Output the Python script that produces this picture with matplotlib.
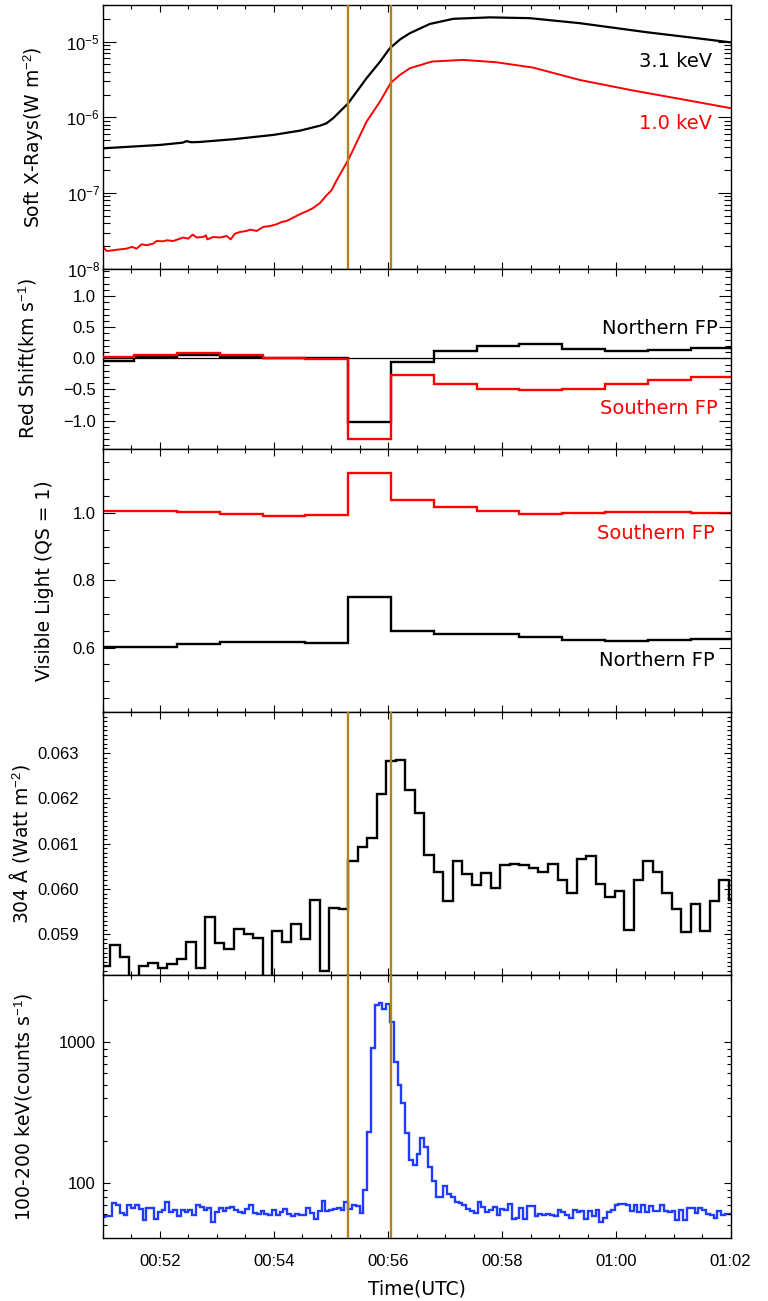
import numpy as np
import matplotlib
matplotlib.use('Agg')
import matplotlib.pyplot as plt
import matplotlib.dates as mdates
import matplotlib.ticker as mticker

plt.rcParams['font.family'] = ['DejaVu Sans']
plt.rcParams['mathtext.fontset'] = 'custom'
plt.rcParams['mathtext.rm'] = 'Liberation Sans'
plt.rcParams['mathtext.it'] = 'Liberation Sans:italic'
plt.rcParams['mathtext.bf'] = 'Liberation Sans:bold'

# ---- data (times in seconds / minutes after 00:50:00 UTC) ----
flare_lines_s = [318, 363]

# soft X-rays, 3.1 keV channel
sxr_hi_min = [1.0, 2.0, 2.40, 2.47, 2.55, 2.70, 3.29, 3.99, 4.46, 4.81, 4.92, 5.04, 5.30,
              5.62, 5.86, 6.03, 6.21, 6.38, 6.73, 7.14, 7.78, 8.48, 9.36, 10.53, 11.40, 12.0]
sxr_hi = [3.89e-7, 4.31e-7, 4.62e-7, 4.84e-7, 4.68e-7, 4.72e-7, 5.13e-7, 5.85e-7, 6.67e-7,
          7.76e-7, 8.32e-7, 9.77e-7, 1.53e-6, 3.27e-6, 5.45e-6, 8.17e-6, 1.07e-5, 1.29e-5,
          1.71e-5, 2.0e-5, 2.09e-5, 2.04e-5, 1.75e-5, 1.33e-5, 1.11e-5, 9.77e-6]

# soft X-rays, 1.0 keV channel
sxr_lo_min = [1.005, 1.07, 1.186, 1.303, 1.42, 1.508, 1.595, 1.683, 1.77, 1.886, 1.946, 2.061,
              2.121, 2.236, 2.412, 2.499, 2.576, 2.646, 2.762, 2.809, 2.832, 2.937, 3.054, 3.172,
              3.242, 3.317, 3.405, 3.522, 3.58, 3.697, 3.813, 3.93, 4.047, 4.135, 4.222, 4.338,
              4.455, 4.573, 4.688, 4.806, 4.923, 5.01, 5.098, 5.301, 5.623, 5.856, 6.049, 6.207,
              6.382, 6.767, 7.315, 7.9, 8.541, 9.359, 10.235, 11.11, 12.0]
sxr_lo = [1.94e-8, 1.71e-8, 1.75e-8, 1.80e-8, 1.84e-8, 1.94e-8, 1.84e-8, 2.10e-8, 2.04e-8,
          2.14e-8, 2.32e-8, 2.30e-8, 2.37e-8, 2.32e-8, 2.58e-8, 2.49e-8, 2.82e-8, 2.58e-8,
          2.62e-8, 2.76e-8, 2.44e-8, 2.62e-8, 2.58e-8, 2.70e-8, 2.44e-8, 2.90e-8, 3.05e-8,
          3.15e-8, 3.28e-8, 3.15e-8, 3.56e-8, 3.66e-8, 3.86e-8, 4.14e-8, 4.27e-8, 4.73e-8,
          5.24e-8, 5.73e-8, 6.34e-8, 7.38e-8, 9.33e-8, 1.09e-7, 1.47e-7, 2.73e-7, 8.77e-7,
          1.61e-6, 2.87e-6, 3.63e-6, 4.45e-6, 5.45e-6, 5.73e-6, 5.33e-6, 4.53e-6, 3.11e-6,
          2.30e-6, 1.75e-6, 1.32e-6]

# footpoint bins (45 s cadence)
fp_edges_s = [48, 93, 138, 183, 228, 273, 318, 363, 408, 453, 498, 543, 588, 633, 678, 723]
north_shift = [-0.04, 0.015, 0.05, 0.02, 0.0, 0.0, -1.03, -0.065, 0.11, 0.20, 0.235, 0.155,
               0.11, 0.14, 0.17]
south_shift = [0.02, 0.05, 0.08, 0.06, 0.01, -0.005, -1.295, -0.274, -0.41, -0.49, -0.516,
               -0.495, -0.41, -0.355, -0.306]
south_vis = [1.005, 1.007, 1.003, 0.998, 0.991, 0.995, 1.117, 1.038, 1.017, 1.007, 0.997,
             0.999, 1.002, 1.002, 1.000]
north_vis = [0.603, 0.603, 0.612, 0.618, 0.618, 0.613, 0.750, 0.649, 0.640, 0.640, 0.632,
             0.623, 0.621, 0.624, 0.626]

# 304 A (10 s cadence, bins start at 58 s)
euv_edges_s = np.arange(58, 729, 10)
euv_304 = [0.05830, 0.05877, 0.05851, 0.0578, 0.05830, 0.05836, 0.05825, 0.05834, 0.05846,
           0.05884, 0.05825, 0.05939, 0.05882, 0.05867, 0.05912, 0.05900, 0.05893, 0.0578,
           0.05908, 0.05883, 0.05924, 0.05890, 0.05975, 0.05819, 0.05959, 0.05957,
           0.06061, 0.06092, 0.06112, 0.06209, 0.06283, 0.06285, 0.06219, 0.06167, 0.06075,
           0.06038, 0.05974, 0.06061, 0.06034, 0.06010, 0.06035, 0.06002, 0.06053, 0.06055,
           0.06052, 0.06047, 0.06038, 0.06055, 0.06019, 0.05992, 0.06067, 0.06073, 0.06012,
           0.05983, 0.05996, 0.05910, 0.06020, 0.06062, 0.06038, 0.05992, 0.05957, 0.05906,
           0.05966, 0.05908, 0.05974, 0.06020, 0.05975]

# 100-200 keV (4 s cadence, bins start at 58 s)
hxr_edges_s = np.arange(58, 723, 4)
hxr_counts = [57, 58, 58, 72, 70, 61, 59, 70, 66, 70, 65, 55, 66, 66, 56, 62, 64, 73, 62, 64,
              58, 64, 62, 64, 59, 70, 68, 64, 66, 53, 62, 66, 63, 66, 68, 64, 62, 61, 65, 70,
              61, 60, 63, 60, 59, 64, 59, 62, 65, 60, 58, 60, 59, 59, 66, 61, 56, 63, 75, 63,
              64, 65, 66, 64, 73,
              65, 70, 69, 61, 90, 232, 906, 1840, 1910, 1715, 1870, 1400, 728, 497, 369, 226,
              146, 135, 161, 208, 180, 131, 103, 80, 80, 96, 83, 80, 73, 72, 70, 65,
              63, 61, 73, 67.5, 62, 64, 68, 59.6, 65.5, 64.7, 71.5, 56, 56.4, 66, 55.5, 69, 69,
              58, 60.5, 59.6, 60.2, 59.6, 58, 64, 62, 59.6, 56.4, 64, 62.5, 63, 55.5, 63.5, 58,
              64.7, 52.7, 56.4, 62, 64, 70, 71.5, 71.5, 70, 63, 70, 62, 70, 62.3, 68.3, 63.5,
              63.5, 70, 63, 62, 63.5, 55, 64.7, 55, 67, 67, 61, 66.5, 64.7, 60.5, 59.6, 56.4,
              63.5, 59.6, 60.5, 60.5]

base = np.datetime64('2000-01-01T00:50:00')


def tnum(sec):
    sec = np.asarray(sec, dtype=float)
    return mdates.date2num(base + np.round(sec * 1000).astype('timedelta64[ms]'))


orange = '#b5801e'
blue = '#1f3cff'

fig = plt.figure(figsize=(7.68, 13.01), dpi=100)
left, width = 0.1337, 0.8177
ax1 = fig.add_axes([left, 0.7935, width, 0.2027])
ax2 = fig.add_axes([left, 0.6547, width, 0.1388])
ax3 = fig.add_axes([left, 0.4528, width, 0.2019])
ax4 = fig.add_axes([left, 0.2502, width, 0.2026])
ax5 = fig.add_axes([left, 0.0487, width, 0.2015])


def style(ax, ymaj, ymin, pad):
    ax.set_xlim(tnum(60), tnum(720))
    ax.xaxis.set_major_locator(mdates.MinuteLocator(byminute=range(0, 60, 2)))
    ax.xaxis.set_minor_locator(mdates.SecondLocator(bysecond=[0, 30]))
    ax.xaxis.set_major_formatter(mdates.DateFormatter('%H:%M'))
    ax.tick_params(which='both', direction='in', top=True, right=True, width=0.8,
                   labelsize=12, labelfontfamily='Liberation Sans')
    ax.tick_params(axis='x', which='major', length=5, pad=12)
    ax.tick_params(axis='x', which='minor', length=3)
    ax.tick_params(axis='y', which='major', length=ymaj, pad=pad)
    ax.tick_params(axis='y', which='minor', length=ymin)
    for s in ax.spines.values():
        s.set_linewidth(1.0)


def ylab(ax, text, x):
    ax.set_ylabel(text, fontsize=13.5, va='center')
    ax.yaxis.set_label_coords(x, 0.5)


# panel 1: soft X-rays
ax1.plot(tnum(np.array(sxr_hi_min) * 60), sxr_hi, color='k', lw=1.6)
ax1.plot(tnum(np.array(sxr_lo_min) * 60), sxr_lo, color='red', lw=1.4)
ax1.set_yscale('log')
ax1.set_ylim(1e-8, 3.05e-5)
ax1.yaxis.set_minor_locator(mticker.LogLocator(base=10, subs=np.arange(2, 10)))
ax1.yaxis.set_minor_formatter(mticker.NullFormatter())
style(ax1, 9.4, 5, 2)
ylab(ax1, 'Soft X-Rays(W m$^{-2}$)', -0.11)
ax1.text(0.970, 0.785, '3.1 keV', transform=ax1.transAxes, ha='right', va='center',
         fontsize=14, color='k')
ax1.text(0.970, 0.551, '1.0 keV', transform=ax1.transAxes, ha='right', va='center',
         fontsize=14, color='red')

# panel 2: red shift
ax2.axhline(0, color='k', lw=0.9, zorder=1)
ax2.stairs(north_shift, tnum(fp_edges_s), baseline=None, color='k', lw=1.7, zorder=2)
ax2.stairs(south_shift, tnum(fp_edges_s), baseline=None, color='red', lw=1.7, zorder=3)
ax2.set_ylim(-1.46, 1.44)
ax2.yaxis.set_major_locator(mticker.MultipleLocator(0.5))
ax2.yaxis.set_minor_locator(mticker.MultipleLocator(0.1))
ax2.yaxis.set_major_formatter(mticker.FuncFormatter(lambda v, p: f'{v:.1f}'.replace('-', '\u2212')))
style(ax2, 8.6, 4.3, 5)
ylab(ax2, 'Red Shift(km s$^{-1}$)', -0.119)
ax2.text(0.979, 0.67, 'Northern FP', transform=ax2.transAxes, ha='right', va='center',
         fontsize=14, color='k')
ax2.text(0.979, 0.223, 'Southern FP', transform=ax2.transAxes, ha='right', va='center',
         fontsize=14, color='red')

# panel 3: visible light
ax3.stairs(south_vis, tnum(fp_edges_s), baseline=None, color='red', lw=1.7)
ax3.stairs(north_vis, tnum(fp_edges_s), baseline=None, color='k', lw=1.7)
ax3.set_ylim(0.409, 1.189)
ax3.yaxis.set_major_locator(mticker.MultipleLocator(0.2))
ax3.yaxis.set_minor_locator(mticker.MultipleLocator(0.05))
ax3.yaxis.set_major_formatter(mticker.FormatStrFormatter('%.1f'))
style(ax3, 8.6, 4.3, 5)
ylab(ax3, 'Visible Light (QS = 1)', -0.092)
ax3.text(0.975, 0.679, 'Southern FP', transform=ax3.transAxes, ha='right', va='center',
         fontsize=14, color='red')
ax3.text(0.975, 0.197, 'Northern FP', transform=ax3.transAxes, ha='right', va='center',
         fontsize=14, color='k')

# panel 4: 304 A
ax4.stairs(euv_304, tnum(euv_edges_s), baseline=None, color='k', lw=1.7)
ax4.set_ylim(0.058094, 0.063906)
ax4.yaxis.set_major_locator(mticker.MultipleLocator(0.001))
ax4.yaxis.set_minor_locator(mticker.MultipleLocator(0.0001))
ax4.yaxis.set_major_formatter(mticker.FormatStrFormatter('%.3f'))
style(ax4, 5, 3, 17)
ylab(ax4, '304 Å (Watt m$^{-2}$)', -0.133)

# panel 5: 100-200 keV
ax5.stairs(hxr_counts, tnum(hxr_edges_s), baseline=None, color=blue, lw=1.7)
ax5.set_yscale('log')
ax5.set_ylim(41, 2970)
ax5.yaxis.set_major_formatter(mticker.FuncFormatter(lambda v, p: f'{v:.0f}'))
ax5.yaxis.set_minor_locator(mticker.LogLocator(base=10, subs=np.arange(2, 10)))
ax5.yaxis.set_minor_formatter(mticker.NullFormatter())
style(ax5, 5, 3, 5)
ylab(ax5, '100-200 keV(counts s$^{-1}$)', -0.125)
ax5.set_xlabel('Time(UTC)', fontsize=13.5)
ax5.xaxis.set_label_coords(0.5, -0.16)
ax5.xaxis.label.set_va('top')

for ax in (ax1, ax2, ax3, ax4):
    ax.tick_params(axis='x', labelbottom=False)

for ax in (ax1, ax4, ax5):
    for t in flare_lines_s:
        ax.axvline(tnum(t), color=orange, lw=1.7, zorder=4)

fig.savefig('out.png', dpi=100)
